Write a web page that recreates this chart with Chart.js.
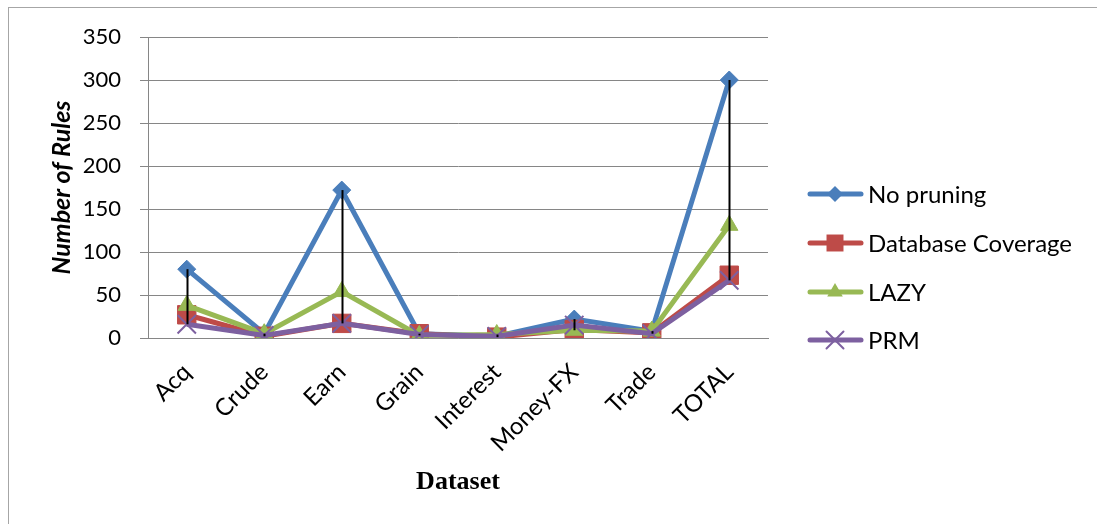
<!DOCTYPE html>
<html>
<head>
<meta charset="utf-8">
<script src="https://cdn.jsdelivr.net/npm/chart.js@4/dist/chart.umd.min.js"></script>
<style>
  html, body { margin: 0; padding: 0; background: #fff; }
  #wrap { width: 1097px; height: 524px; position: relative; }
</style>
</head>
<body>
<div id="wrap"><canvas id="c" width="1097" height="524"></canvas></div>
<script>
// Rule counts per dataset for each pruning method
const categories = ['Acq', 'Crude', 'Earn', 'Grain', 'Interest', 'Money-FX', 'Trade', 'TOTAL'];
const noPruning  = [80, 5, 172, 5, 2, 22, 8, 300];
const dbCoverage = [27, 2, 17, 5, 1, 10, 6, 73];
const lazy       = [38, 5, 54, 3, 4, 9, 8, 131];
const prm        = [16, 3, 17, 4, 2, 15, 5, 67];
const yTicks     = [0, 50, 100, 150, 200, 250, 300, 350];

const BASE_FONT = 'Lato';

const seriesDefs = [
  { label: 'No pruning',        data: noPruning,  color: '#4A7EBB', style: 'rectRot',  radius: 9,  order: 4 },
  { label: 'Database Coverage', data: dbCoverage, color: '#BE4B48', style: 'rect',     radius: 13, order: 3 },
  { label: 'LAZY',              data: lazy,       color: '#98B954', style: 'triangle', radius: 10, order: 2 },
  { label: 'PRM',               data: prm,        color: '#7D60A0', style: 'crossRot', radius: 13, order: 1 }
];

// Draws a single marker shape at (x, y)
function drawMarker(ctx, style, r, x, y, color) {
  ctx.save();
  ctx.fillStyle = color;
  ctx.strokeStyle = color;
  ctx.beginPath();
  if (style === 'rectRot') {
    ctx.moveTo(x, y - r); ctx.lineTo(x + r, y); ctx.lineTo(x, y + r); ctx.lineTo(x - r, y); ctx.closePath();
    ctx.fill();
  } else if (style === 'rect') {
    const h = r * Math.SQRT1_2;
    ctx.rect(x - h, y - h, 2 * h, 2 * h);
    ctx.fill();
  } else if (style === 'triangle') {
    ctx.moveTo(x, y - r);
    ctx.lineTo(x + r * 0.866, y + r * 0.5);
    ctx.lineTo(x - r * 0.866, y + r * 0.5);
    ctx.closePath();
    ctx.fill();
  } else if (style === 'crossRot') {
    const h = r * Math.SQRT1_2;
    ctx.lineWidth = 2;
    ctx.moveTo(x - h, y - h); ctx.lineTo(x + h, y + h);
    ctx.moveTo(x + h, y - h); ctx.lineTo(x - h, y + h);
    ctx.stroke();
  }
  ctx.restore();
}

// Page background and outer frame
const frame = {
  id: 'frame',
  beforeDraw(chart) {
    const ctx = chart.ctx;
    ctx.save();
    ctx.fillStyle = '#fff';
    ctx.fillRect(0, 0, chart.width, chart.height);
    ctx.strokeStyle = '#A6A6A6';
    ctx.lineWidth = 1;
    ctx.strokeRect(8.5, 7.5, 1200, 600);
    ctx.restore();
  }
};

// Vertical high-low lines joining the largest and smallest value in each category
const hiLoLines = {
  id: 'hiLoLines',
  afterDatasetsDraw(chart) {
    const { ctx, scales: { x, y } } = chart;
    const sets = chart.data.datasets.map(d => d.data);
    ctx.save();
    ctx.strokeStyle = '#000';
    ctx.lineWidth = 2;
    categories.forEach((c, i) => {
      const vals = sets.map(s => s[i]);
      const px = Math.round(x.getPixelForValue(i)) + 0.5;
      ctx.beginPath();
      ctx.moveTo(px, y.getPixelForValue(Math.max(...vals)));
      ctx.lineTo(px, y.getPixelForValue(Math.min(...vals)));
      ctx.stroke();
    });
    ctx.restore();
  }
};

// Legend with line-and-marker samples on the right
const lineLegend = {
  id: 'lineLegend',
  afterDraw(chart) {
    const ctx = chart.ctx;
    const rows = [194, 243, 292, 340];
    ctx.save();
    chart.data.datasets.forEach((ds, i) => {
      const def = seriesDefs[i];
      const y = rows[i];
      ctx.strokeStyle = def.color;
      ctx.lineWidth = 5;
      ctx.lineCap = 'round';
      ctx.beginPath();
      ctx.moveTo(810, y);
      ctx.lineTo(861, y);
      ctx.stroke();
      drawMarker(ctx, def.style, def.style === 'rect' ? 12 : def.radius - 1, 835, y, def.color);
      ctx.fillStyle = '#000';
      ctx.font = '24px ' + BASE_FONT;
      ctx.textAlign = 'left';
      ctx.textBaseline = 'middle';
      ctx.fillText(ds.label, 868, y + 1);
    });
    ctx.restore();
  }
};

const chart = new Chart(document.getElementById('c'), {
  type: 'line',
  data: {
    labels: categories,
    datasets: seriesDefs.map(d => ({
      label: d.label,
      data: d.data,
      borderColor: d.color,
      backgroundColor: d.color,
      borderWidth: 5,
      pointStyle: d.style,
      pointRadius: d.radius,
      pointHoverRadius: d.radius,
      pointBorderWidth: d.style === 'crossRot' ? 2 : 1,
      pointBorderColor: d.color,
      pointBackgroundColor: d.color,
      tension: 0,
      order: d.order
    }))
  },
  options: {
    responsive: false,
    animation: false,
    devicePixelRatio: 1,
    layout: { padding: { left: 0, right: 329, top: 37, bottom: 0 } },
    plugins: {
      legend: { display: false },
      tooltip: { enabled: false }
    },
    scales: {
      x: {
        type: 'category',
        offset: true,
        grid: { display: false },
        border: { display: true, color: '#868686', width: 1 },
        ticks: {
          color: '#000',
          font: { family: BASE_FONT, size: 24 },
          maxRotation: 45,
          minRotation: 45,
          padding: 12,
          autoSkip: false
        },
        title: {
          display: true,
          text: 'Dataset',
          color: '#000',
          font: { family: 'Liberation Serif', size: 26, weight: 'bold' },
          padding: { top: 0, bottom: 26 }
        },
        afterFit(s) { s.height = 186; }
      },
      y: {
        min: 0,
        max: 350,
        afterBuildTicks(s) { s.ticks = yTicks.map(v => ({ value: v })); },
        grid: { color: '#868686', lineWidth: 1, tickLength: 8, drawTicks: true },
        border: { display: true, color: '#868686', width: 1 },
        ticks: {
          color: '#000',
          font: { family: BASE_FONT, size: 22 },
          padding: 19
        },
        title: {
          display: true,
          text: 'Number of Rules',
          color: '#000',
          font: { family: BASE_FONT, size: 25, weight: 'bold', style: 'italic' },
          padding: { top: 47, bottom: 0 }
        },
        afterFit(s) { s.width = 148; }
      }
    }
  },
  plugins: [frame, hiLoLines, lineLegend]
});
</script>
</body>
</html>
